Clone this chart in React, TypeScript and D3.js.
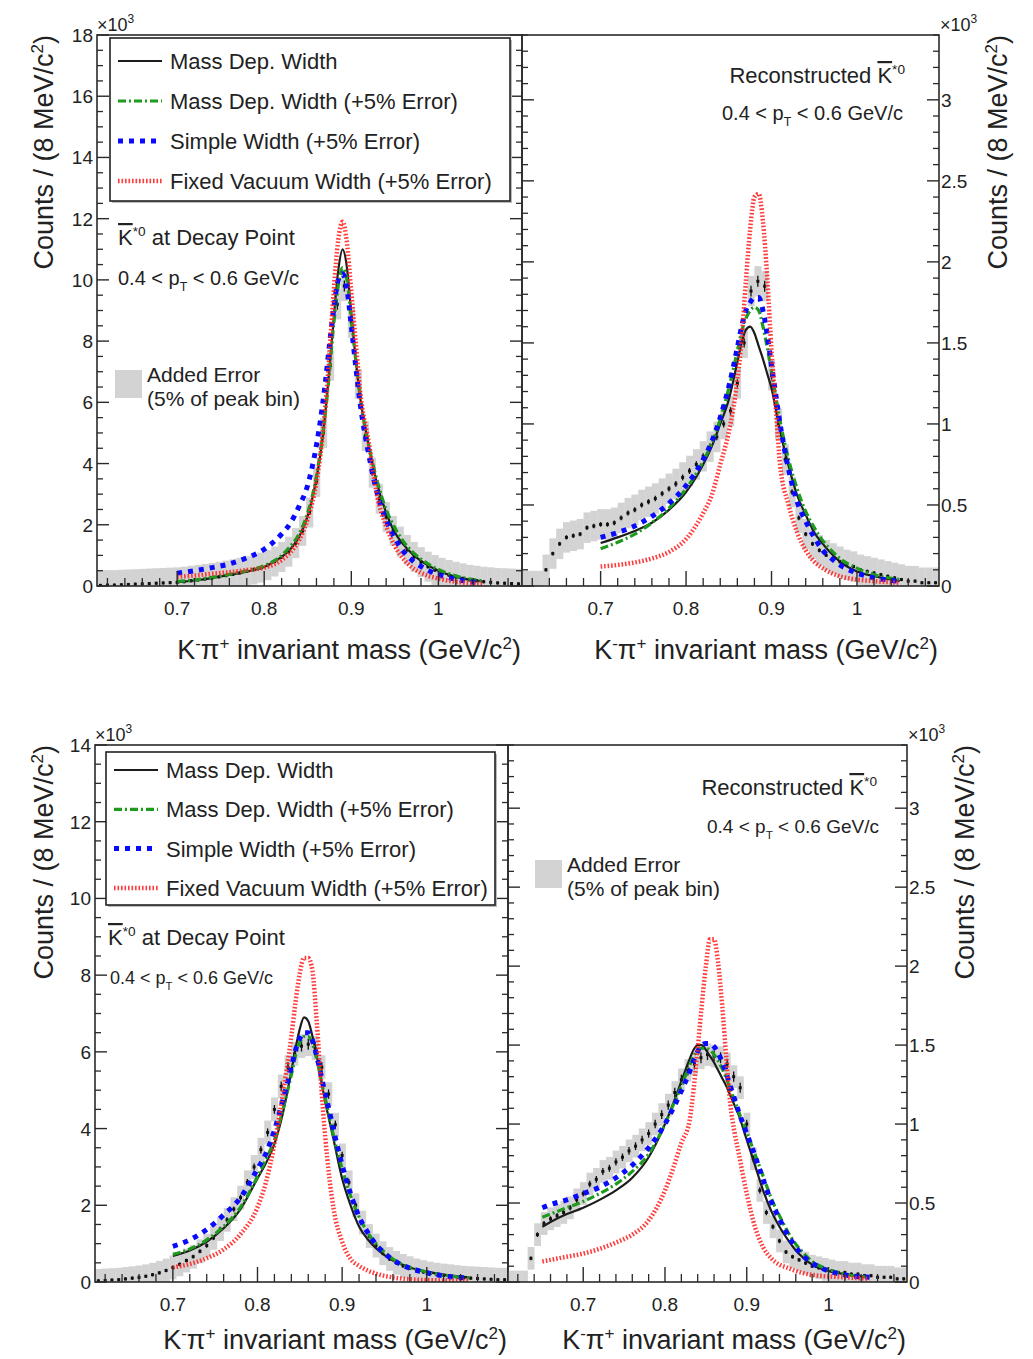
import React from "react";
import * as d3 from "d3";

const FONT = "'Liberation Sans', Arial, Helvetica, sans-serif";

// ---------- shared categories ----------
const binCenters = [
  0.612, 0.62, 0.628, 0.636, 0.644, 0.652, 0.66, 0.668, 0.676, 0.684, 0.692,
  0.7, 0.708, 0.716, 0.724, 0.732, 0.74, 0.748, 0.756, 0.764, 0.772,
  0.78, 0.788, 0.796, 0.804, 0.812, 0.82, 0.828, 0.836, 0.844, 0.852,
  0.86, 0.868, 0.876, 0.884, 0.892, 0.9, 0.908, 0.916, 0.924, 0.932,
  0.94, 0.948, 0.956, 0.964, 0.972, 0.98, 0.988, 0.996, 1.004, 1.012,
  1.02, 1.028, 1.036, 1.044, 1.052, 1.06, 1.068, 1.076, 1.084, 1.092,
];
const X_DOMAIN = [0.608, 1.096];
const xTickValues = [0.7, 0.8, 0.9, 1.0];
const xTickLabels = ["0.7", "0.8", "0.9", "1"];
const yTicksTopLeft = [0, 2, 4, 6, 8, 10, 12, 14, 16, 18];
const yTicksBottomLeft = [0, 2, 4, 6, 8, 10, 12, 14];
const yTicksRight = [0, 0.5, 1, 1.5, 2, 2.5, 3];
const yTickLabelsRight = ["0", "0.5", "1", "1.5", "2", "2.5", "3"];
const legendLabels = [
  "Mass Dep. Width",
  "Mass Dep. Width (+5% Error)",
  "Simple Width (+5% Error)",
  "Fixed Vacuum Width (+5% Error)",
];

// ---------- top row: fit masses ----------
const fitMassTop = [0.70, 0.72, 0.74, 0.76, 0.78, 0.80, 0.82, 0.83, 0.84, 0.85, 0.86, 0.865, 0.87, 0.875, 0.88, 0.885, 0.89, 0.895, 0.90, 0.905, 0.91, 0.92, 0.93, 0.94, 0.95, 0.96, 0.97, 0.98, 1.00, 1.02, 1.05];

// top-left: K*0 at decay point (x10^3)
const dataTL = [
  0.02, 0.03, 0.03, 0.04, 0.05, 0.06, 0.07, 0.08, 0.09, 0.10, 0.11,
  0.12, 0.14, 0.17, 0.20, 0.23, 0.26, 0.30, 0.34, 0.38, 0.43,
  0.48, 0.54, 0.60, 0.68, 0.80, 0.95, 1.12, 1.40, 1.80, 2.40,
  3.40, 5.00, 7.20, 9.20, 9.80, 8.60, 6.60, 4.90, 3.70, 2.85,
  2.25, 1.80, 1.45, 1.18, 0.95, 0.78, 0.63, 0.52, 0.43, 0.36,
  0.30, 0.25, 0.20, 0.17, 0.14, 0.12, 0.10, 0.09, 0.08, 0.07,
];
const massDepTL = [0.12, 0.18, 0.26, 0.36, 0.47, 0.62, 0.95, 1.2, 1.6, 2.3, 3.5, 4.4, 5.6, 7.1, 8.8, 10.3, 11.0, 10.4, 8.9, 7.4, 6.2, 4.6, 3.3, 2.4, 1.75, 1.35, 1.05, 0.82, 0.5, 0.3, 0.15];
const massDepErrTL = [0.15, 0.2, 0.28, 0.38, 0.5, 0.66, 1.0, 1.3, 1.7, 2.4, 3.6, 4.5, 5.6, 7.0, 8.6, 9.8, 10.4, 10.0, 8.7, 7.4, 6.2, 4.6, 3.4, 2.5, 1.9, 1.45, 1.12, 0.88, 0.54, 0.33, 0.17];
const simpleTL = [0.42, 0.5, 0.6, 0.72, 0.92, 1.2, 1.7, 2.05, 2.6, 3.3, 4.6, 5.5, 6.6, 7.9, 9.1, 10.0, 10.2, 9.7, 8.5, 7.2, 6.0, 4.3, 3.0, 2.15, 1.55, 1.12, 0.84, 0.64, 0.37, 0.22, 0.1];
const fixedTL = [0.3, 0.34, 0.4, 0.45, 0.52, 0.6, 0.85, 1.1, 1.5, 2.2, 3.4, 4.4, 5.8, 7.6, 9.7, 11.3, 11.9, 11.2, 9.6, 8.0, 6.4, 4.7, 2.9, 1.95, 1.3, 0.88, 0.6, 0.43, 0.24, 0.14, 0.07];

// top-right: reconstructed (x10^3)
const dataTR = [
  0, 0, 0, 0.10, 0.20, 0.26, 0.30, 0.31, 0.32, 0.36, 0.37,
  0.38, 0.38, 0.39, 0.42, 0.45, 0.47, 0.50, 0.52, 0.54, 0.57,
  0.60, 0.63, 0.67, 0.71, 0.75, 0.80, 0.86, 0.92, 1.00, 1.08,
  1.25, 1.50, 1.82, 1.88, 1.85, 1.30, 1.00, 0.78, 0.58, 0.42,
  0.32, 0.26, 0.22, 0.19, 0.17, 0.15, 0.13, 0.12, 0.10, 0.09,
  0.08, 0.07, 0.06, 0.05, 0.04, 0.03, 0.03, 0.02, 0.02, 0.02,
];
const massDepTR = [0.265, 0.3, 0.34, 0.39, 0.47, 0.58, 0.75, 0.86, 1.0, 1.15, 1.38, 1.5, 1.58, 1.6, 1.56, 1.48, 1.4, 1.31, 1.22, 1.09, 0.96, 0.74, 0.56, 0.44, 0.33, 0.26, 0.2, 0.15, 0.09, 0.06, 0.03];
const massDepErrTR = [0.23, 0.27, 0.32, 0.39, 0.48, 0.6, 0.77, 0.88, 1.03, 1.22, 1.45, 1.57, 1.65, 1.7, 1.72, 1.7, 1.6, 1.47, 1.32, 1.17, 1.02, 0.78, 0.6, 0.46, 0.36, 0.28, 0.22, 0.17, 0.11, 0.07, 0.04];
const simpleTR = [0.3, 0.33, 0.37, 0.43, 0.51, 0.62, 0.78, 0.89, 1.04, 1.23, 1.47, 1.6, 1.7, 1.75, 1.78, 1.78, 1.7, 1.55, 1.36, 1.18, 1.0, 0.72, 0.52, 0.4, 0.3, 0.22, 0.17, 0.13, 0.08, 0.05, 0.03];
const fixedTR = [0.12, 0.13, 0.145, 0.17, 0.21, 0.29, 0.45, 0.56, 0.75, 0.95, 1.27, 1.52, 1.88, 2.2, 2.4, 2.42, 2.25, 1.9, 1.45, 1.1, 0.75, 0.5, 0.33, 0.22, 0.15, 0.11, 0.08, 0.06, 0.04, 0.03, 0.02];

// ---------- bottom-left ----------
const fitMassBL = [0.70, 0.72, 0.74, 0.76, 0.78, 0.80, 0.81, 0.82, 0.83, 0.84, 0.845, 0.85, 0.855, 0.86, 0.865, 0.87, 0.875, 0.88, 0.885, 0.89, 0.90, 0.91, 0.92, 0.93, 0.94, 0.95, 0.96, 0.97, 0.98, 1.00, 1.02, 1.05];
const dataBL = [
  0.03, 0.04, 0.05, 0.06, 0.08, 0.10, 0.12, 0.15, 0.19, 0.24, 0.30,
  0.38, 0.46, 0.56, 0.66, 0.80, 0.95, 1.15, 1.38, 1.62, 1.90,
  2.20, 2.60, 3.00, 3.45, 3.90, 4.50, 5.10, 5.60, 5.95, 6.15,
  6.20, 6.10, 5.60, 4.90, 4.10, 3.30, 2.60, 2.00, 1.55, 1.20,
  0.95, 0.75, 0.60, 0.50, 0.42, 0.36, 0.30, 0.26, 0.22, 0.19,
  0.17, 0.15, 0.13, 0.11, 0.10, 0.09, 0.08, 0.07, 0.06, 0.06,
];
const massDepBL = [0.68, 0.82, 1.05, 1.4, 1.9, 2.7, 3.1, 3.6, 4.4, 5.5, 6.1, 6.6, 6.9, 6.8, 6.4, 5.9, 5.3, 4.7, 4.2, 3.7, 2.7, 2.0, 1.45, 1.12, 0.88, 0.7, 0.56, 0.46, 0.38, 0.27, 0.19, 0.12];
const massDepErrBL = [0.72, 0.86, 1.1, 1.45, 1.95, 2.75, 3.2, 3.7, 4.5, 5.4, 5.9, 6.25, 6.4, 6.4, 6.2, 5.8, 5.3, 4.8, 4.3, 3.8, 2.95, 2.25, 1.7, 1.3, 1.0, 0.78, 0.6, 0.47, 0.38, 0.26, 0.18, 0.11];
const simpleBL = [0.93, 1.1, 1.37, 1.75, 2.2, 2.95, 3.35, 3.95, 4.75, 5.6, 6.05, 6.35, 6.5, 6.5, 6.3, 5.9, 5.4, 4.9, 4.45, 3.95, 3.05, 2.3, 1.7, 1.3, 0.98, 0.75, 0.58, 0.45, 0.36, 0.24, 0.16, 0.1];
const fixedBL = [0.38, 0.47, 0.62, 0.85, 1.25, 1.95, 2.6, 3.6, 4.9, 6.4, 7.3, 8.05, 8.45, 8.45, 8.1, 6.8, 5.2, 3.8, 2.7, 1.9, 1.05, 0.6, 0.42, 0.3, 0.22, 0.16, 0.12, 0.09, 0.07, 0.05, 0.04, 0.03];

// ---------- bottom-right ----------
const fitMassBR = [0.65, 0.66, 0.68, 0.70, 0.72, 0.74, 0.76, 0.78, 0.80, 0.81, 0.82, 0.83, 0.835, 0.84, 0.845, 0.85, 0.855, 0.86, 0.865, 0.87, 0.875, 0.88, 0.885, 0.89, 0.90, 0.91, 0.92, 0.93, 0.94, 0.95, 0.96, 0.97, 0.98, 1.00, 1.02, 1.05];
const dataBR = [
  0, 0, 0, 0.15, 0.30, 0.37, 0.40, 0.42, 0.44, 0.47, 0.52,
  0.56, 0.62, 0.65, 0.70, 0.72, 0.76, 0.79, 0.83, 0.86, 0.90,
  0.94, 1.00, 1.06, 1.12, 1.20, 1.28, 1.34, 1.38, 1.42, 1.44,
  1.43, 1.42, 1.38, 1.30, 1.23, 1.00, 0.78, 0.58, 0.44, 0.35,
  0.26, 0.19, 0.16, 0.14, 0.12, 0.10, 0.09, 0.08, 0.07, 0.06,
  0.06, 0.05, 0.05, 0.04, 0.04, 0.03, 0.03, 0.03, 0.02, 0.02,
];
const massDepBR = [0.35, 0.38, 0.43, 0.47, 0.52, 0.58, 0.66, 0.79, 1.0, 1.13, 1.27, 1.41, 1.47, 1.5, 1.5, 1.47, 1.43, 1.39, 1.34, 1.29, 1.24, 1.18, 1.12, 1.06, 0.9, 0.74, 0.58, 0.45, 0.35, 0.27, 0.2, 0.15, 0.11, 0.07, 0.05, 0.03];
const massDepErrBR = [0.41, 0.43, 0.47, 0.51, 0.56, 0.62, 0.7, 0.81, 1.0, 1.12, 1.24, 1.37, 1.43, 1.47, 1.48, 1.48, 1.47, 1.44, 1.4, 1.35, 1.29, 1.22, 1.15, 1.08, 0.95, 0.81, 0.67, 0.53, 0.42, 0.32, 0.24, 0.18, 0.13, 0.08, 0.05, 0.03];
const simpleBR = [0.47, 0.49, 0.52, 0.56, 0.6, 0.66, 0.74, 0.85, 1.0, 1.1, 1.21, 1.33, 1.4, 1.46, 1.5, 1.51, 1.51, 1.49, 1.45, 1.39, 1.32, 1.24, 1.16, 1.08, 0.94, 0.8, 0.65, 0.51, 0.4, 0.3, 0.22, 0.16, 0.12, 0.07, 0.045, 0.03];
const fixedBR = [0.13, 0.14, 0.16, 0.18, 0.21, 0.25, 0.3, 0.39, 0.58, 0.72, 0.88, 1.02, 1.22, 1.48, 1.75, 2.0, 2.17, 2.17, 2.02, 1.75, 1.42, 1.12, 0.95, 0.82, 0.56, 0.35, 0.22, 0.15, 0.11, 0.09, 0.07, 0.055, 0.045, 0.035, 0.03, 0.02];

// ---------- styles ----------
const SERIES_STYLE = [
  { key: "black", stroke: "#1c1c1c", width: 2.2, dash: undefined as string | undefined, opacity: 1 },
  { key: "green", stroke: "#1f9a1f", width: 3.2, dash: "8,3,2,3", opacity: 1 },
  { key: "blue", stroke: "#0a0aff", width: 5, dash: "5,6", opacity: 1 },
  { key: "red", stroke: "#ff2626", width: 4.5, dash: "1.6,1.9", opacity: 0.9 },
];

type PanelSpec = {
  id: string;
  x0: number; x1: number; yTop: number; yBot: number; yMax: number;
  side: "left" | "right";
  yTicks: number[]; yTickLabels: string[]; yMinorStep: number;
  data: number[]; fitMass: number[]; curves: number[][];
};

const PANELS: PanelSpec[] = [
  { id: "tl", x0: 97, x1: 522, yTop: 35, yBot: 586, yMax: 18, side: "left",
    yTicks: yTicksTopLeft, yTickLabels: yTicksTopLeft.map(String), yMinorStep: 0.5,
    data: dataTL, fitMass: fitMassTop, curves: [massDepTL, massDepErrTL, simpleTL, fixedTL] },
  { id: "tr", x0: 522, x1: 939, yTop: 35, yBot: 586, yMax: 3.4, side: "right",
    yTicks: yTicksRight, yTickLabels: yTickLabelsRight, yMinorStep: 0.1,
    data: dataTR, fitMass: fitMassTop, curves: [massDepTR, massDepErrTR, simpleTR, fixedTR] },
  { id: "bl", x0: 95, x1: 508, yTop: 745, yBot: 1282, yMax: 14, side: "left",
    yTicks: yTicksBottomLeft, yTickLabels: yTicksBottomLeft.map(String), yMinorStep: 0.5,
    data: dataBL, fitMass: fitMassBL, curves: [massDepBL, massDepErrBL, simpleBL, fixedBL] },
  { id: "br", x0: 508, x1: 907, yTop: 745, yBot: 1282, yMax: 3.4, side: "right",
    yTicks: yTicksRight, yTickLabels: yTickLabelsRight, yMinorStep: 0.1,
    data: dataBR, fitMass: fitMassBR, curves: [massDepBR, massDepErrBR, simpleBR, fixedBR] },
];

function Panel({ p }: { p: PanelSpec }) {
  const xs = d3.scaleLinear().domain(X_DOMAIN).range([p.x0, p.x1]);
  const ys = d3.scaleLinear().domain([0, p.yMax]).range([p.yBot, p.yTop]);
  const peak = d3.max(p.data) as number;
  const err = 0.05 * peak;
  const halfBin = 0.004;
  const line = d3
    .line<[number, number]>()
    .x((d) => xs(d[0]))
    .y((d) => ys(d[1]))
    .curve(d3.curveMonotoneX);
  const clipId = `clip-${p.id}`;
  const minorX = d3.range(0.62, 1.095, 0.02).filter((v) => !xTickValues.some((t) => Math.abs(t - v) < 1e-6));
  const minorY = d3.range(0, p.yMax + 1e-9, p.yMinorStep).filter((v) => !p.yTicks.some((t) => Math.abs(t - v) < 1e-6));
  const ML = 12, mL = 6, XL = 15, xL = 8;
  return (
    <g>
      <defs>
        <clipPath id={clipId}>
          <rect x={p.x0} y={p.yTop} width={p.x1 - p.x0} height={p.yBot - p.yTop} />
        </clipPath>
      </defs>
      <g clipPath={`url(#${clipId})`}>
        {binCenters.map((m, i) => (
          <rect key={`g${i}`} x={xs(m - halfBin)} width={xs(m + halfBin) - xs(m - halfBin) + 0.3}
            y={ys(p.data[i] + err)} height={ys(p.data[i] - err) - ys(p.data[i] + err)} fill="#d3d3d3" />
        ))}
        {binCenters.map((m, i) =>
          p.data[i] > 0 ? (
            <g key={`d${i}`}>
              <line x1={xs(m)} x2={xs(m)} y1={ys(p.data[i]) - (1.5 + 4 * p.data[i] / peak)}
                y2={ys(p.data[i]) + (1.5 + 4 * p.data[i] / peak)} stroke="#111" strokeWidth={1.3} />
              <rect x={xs(m) - 1.5} y={ys(p.data[i]) - 1.5} width={3} height={3} fill="#111" />
            </g>
          ) : null
        )}
        {SERIES_STYLE.map((s, k) => (
          <path key={s.key} d={line(p.fitMass.map((m, i) => [m, p.curves[k][i]] as [number, number])) || ""}
            fill="none" stroke={s.stroke} strokeWidth={s.width} strokeDasharray={s.dash} opacity={s.opacity} />
        ))}
      </g>
      {/* frame */}
      <rect x={p.x0} y={p.yTop} width={p.x1 - p.x0} height={p.yBot - p.yTop} fill="none" stroke="#2a2a2a" strokeWidth={1.6} />
      {/* x ticks */}
      {xTickValues.map((t) => (
        <line key={`xt${t}`} x1={xs(t)} x2={xs(t)} y1={p.yBot} y2={p.yBot - XL} stroke="#2a2a2a" strokeWidth={1.4} />
      ))}
      {minorX.map((t, i) => (
        <line key={`xm${i}`} x1={xs(t)} x2={xs(t)} y1={p.yBot} y2={p.yBot - xL} stroke="#2a2a2a" strokeWidth={1.3} />
      ))}
      {xTickValues.map((t, i) => (
        <text key={`xl${t}`} x={xs(t)} y={p.yBot + 29} fontSize={19} textAnchor="middle" fill="#222">{xTickLabels[i]}</text>
      ))}
      {/* y ticks both borders */}
      {p.yTicks.map((t) => (
        <g key={`yt${t}`}>
          <line x1={p.x0} x2={p.x0 + ML} y1={ys(t)} y2={ys(t)} stroke="#2a2a2a" strokeWidth={1.4} />
          <line x1={p.x1} x2={p.x1 - ML} y1={ys(t)} y2={ys(t)} stroke="#2a2a2a" strokeWidth={1.4} />
        </g>
      ))}
      {minorY.map((t, i) => (
        <g key={`ym${i}`}>
          <line x1={p.x0} x2={p.x0 + mL} y1={ys(t)} y2={ys(t)} stroke="#2a2a2a" strokeWidth={1.3} />
          <line x1={p.x1} x2={p.x1 - mL} y1={ys(t)} y2={ys(t)} stroke="#2a2a2a" strokeWidth={1.3} />
        </g>
      ))}
      {p.yTicks.map((t, i) =>
        p.side === "left" ? (
          <text key={`yl${t}`} x={p.x0 - 4} y={ys(t) + 7} fontSize={19} textAnchor="end" fill="#222">{p.yTickLabels[i]}</text>
        ) : (
          <text key={`yl${t}`} x={p.x1 + 2} y={ys(t) + 7} fontSize={19} textAnchor="start" fill="#222">{p.yTickLabels[i]}</text>
        )
      )}
      {/* x title */}
      <text x={p.x1 - 1} y={p.id[0] === "t" ? 659 : 1349} fontSize={27} textAnchor="end" fill="#222">
        K<tspan dy={-10} fontSize={17}>-</tspan>
        <tspan dy={10}>π</tspan>
        <tspan dy={-10} fontSize={17}>+</tspan>
        <tspan dy={10}> invariant mass (GeV/c</tspan>
        <tspan dy={-10} fontSize={17}>2</tspan>
        <tspan dy={10}>)</tspan>
      </text>
      {/* y title */}
      <text transform={`translate(${p.side === "left" ? 53 : p.id === "tr" ? 1007 : 974},${p.yTop}) rotate(-90)`}
        fontSize={27} textAnchor="end" fill="#222">
        Counts / (8 MeV/c<tspan dy={-10} fontSize={17}>2</tspan>
        <tspan dy={10}>)</tspan>
      </text>
      {/* x10^3 */}
      <text x={p.side === "left" ? p.x0 : p.x1 + 1} y={p.yTop - 4} fontSize={18} fill="#222">
        ×10<tspan dy={-8} fontSize={12}>3</tspan>
      </text>
    </g>
  );
}

function Legend({ x, y, w, h, step, first }: { x: number; y: number; w: number; h: number; step: number; first: number }) {
  const sx0 = x + 8, sx1 = x + 52, tx = x + 60;
  return (
    <g>
      <rect x={x + 2} y={y + 2} width={w} height={h} fill="#bbb" />
      <rect x={x} y={y} width={w} height={h} fill="#fff" stroke="#222" strokeWidth={1.6} />
      {legendLabels.map((lab, i) => {
        const s = SERIES_STYLE[i];
        const cy = y + first + i * step;
        return (
          <g key={lab}>
            <line x1={sx0} x2={sx1} y1={cy} y2={cy} stroke={s.stroke} strokeWidth={s.width}
              strokeDasharray={s.dash} opacity={s.opacity} />
            <text x={tx} y={cy + 8} fontSize={22} fill="#222">{lab}</text>
          </g>
        );
      })}
    </g>
  );
}

function KStar({ x, y, size, anchor, before, after }: { x: number; y: number; size: number; anchor: string; before: string; after: string }) {
  return (
    <text x={x} y={y} fontSize={size} textAnchor={anchor as any} fill="#222">
      {before}
      <tspan style={{ textDecoration: "overline" }}>K</tspan>
      <tspan dy={-9} fontSize={size * 0.62}>*0</tspan>
      <tspan dy={9}>{after}</tspan>
    </text>
  );
}

function PtText({ x, y, size, anchor }: { x: number; y: number; size: number; anchor: string }) {
  return (
    <text x={x} y={y} fontSize={size} textAnchor={anchor as any} fill="#222">
      0.4 &lt; p<tspan dy={6} fontSize={size * 0.62}>T</tspan>
      <tspan dy={-6}> &lt; 0.6 GeV/c</tspan>
    </text>
  );
}

function AddedError({ x, y }: { x: number; y: number }) {
  return (
    <g>
      <rect x={x} y={y} width={27} height={28} fill="#d3d3d3" />
      <text x={x + 32} y={y + 12} fontSize={21} fill="#222">Added Error</text>
      <text x={x + 32} y={y + 36} fontSize={21} fill="#222">(5% of peak bin)</text>
    </g>
  );
}

export default function App() {
  return (
    <svg width={1033} height={1359} style={{ position: "absolute", left: 0, top: 0, background: "#fff" }} fontFamily={FONT}>
      <rect width={1033} height={1359} fill="#fff" />
      {PANELS.map((p) => (
        <Panel key={p.id} p={p} />
      ))}
      <Legend x={110} y={38} w={400} h={163} step={40} first={23} />
      <Legend x={106} y={752} w={389} h={153} step={39.3} first={18} />
      <KStar x={118} y={245} size={22} anchor="start" before="" after=" at Decay Point" />
      <PtText x={118} y={285} size={20} anchor="start" />
      <AddedError x={115} y={370} />
      <KStar x={905} y={83} size={22} anchor="end" before="Reconstructed " after="" />
      <PtText x={903} y={120} size={20} anchor="end" />
      <KStar x={108} y={945} size={22} anchor="start" before="" after=" at Decay Point" />
      <PtText x={110} y={984} size={18} anchor="start" />
      <KStar x={877} y={795} size={22} anchor="end" before="Reconstructed " after="" />
      <PtText x={879} y={833} size={19} anchor="end" />
      <AddedError x={535} y={860} />
    </svg>
  );
}
